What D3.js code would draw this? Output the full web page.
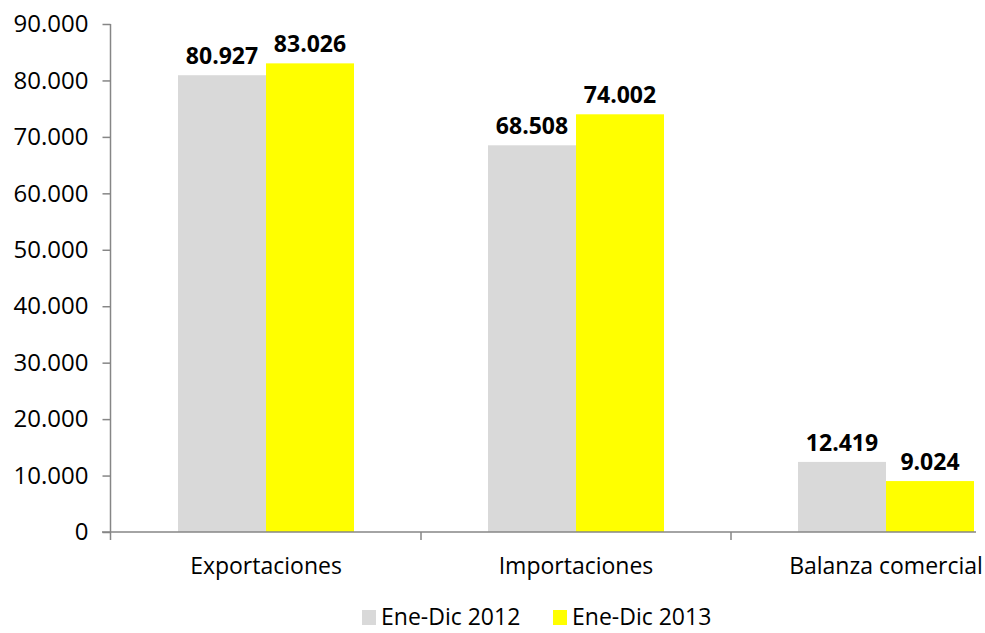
<!DOCTYPE html>
<html>
<head>
<meta charset="utf-8">
<script src="https://cdn.jsdelivr.net/npm/d3@7"></script>
<style>
  body { margin: 0; background: #fff; }
  text { font-family: "Open Sans", "Noto Sans", sans-serif; }
</style>
</head>
<body>
<div id="chart-area"></div>
<script>
var categories = ["Exportaciones", "Importaciones", "Balanza comercial"];
var series = ["Ene-Dic 2012", "Ene-Dic 2013"];
var values2012 = [80927, 68508, 12419];
var values2013 = [83026, 74002, 9024];
var yTicks = [0, 10000, 20000, 30000, 40000, 50000, 60000, 70000, 80000, 90000];
var colors = ["#d9d9d9", "#ffff00"];

var width = 985, height = 633;
var margin = { left: 111, right: -56, top: 24, bottom: 101 };

var svg = d3.select("#chart-area")
    .append("svg")
    .attr("width", width)
    .attr("height", height);

var fmt = function(v) {
    return d3.format(",")(v).replace(/,/g, ".");
};

var x = d3.scaleBand()
    .domain(categories)
    .range([margin.left, width - margin.right])
    .paddingInner(0)
    .paddingOuter(0);

// two 88px bars inside each 310px band
var x1 = d3.scaleBand()
    .domain(series)
    .range([0, x.bandwidth()])
    .paddingInner(0)
    .paddingOuter(0.7614);

var y = d3.scaleLinear()
    .domain([0, 90000])
    .range([height - margin.bottom, margin.top]);

var rows = categories.map(function(c, i) {
    return [
        { cat: c, s: series[0], v: values2012[i] },
        { cat: c, s: series[1], v: values2013[i] }
    ];
});

// bars
var groups = svg.selectAll("g.cat")
    .data(rows)
    .enter()
    .append("g")
    .attr("class", "cat")
    .attr("transform", function(d) { return "translate(" + x(d[0].cat) + ",0)"; });

groups.selectAll("rect")
    .data(function(d) { return d; })
    .enter()
    .append("rect")
        .attr("x", function(d) { return x1(d.s); })
        .attr("y", function(d) { return y(d.v); })
        .attr("width", x1.bandwidth())
        .attr("height", function(d) { return y(0) - y(d.v); })
        .attr("fill", function(d, i) { return colors[i]; });

groups.selectAll("text.val")
    .data(function(d) { return d; })
    .enter()
    .append("text")
        .attr("class", "val")
        .attr("x", function(d) { return x1(d.s) + x1.bandwidth() / 2; })
        .attr("y", function(d) { return y(d.v) - 11; })
        .attr("text-anchor", "middle")
        .attr("font-size", "23px")
        .attr("font-weight", "bold")
        .attr("fill", "#000")
        .text(function(d) { return fmt(d.v); });

// y axis
var yAxis = svg.append("g")
    .attr("transform", "translate(" + (margin.left - 0.5) + ",0)")
    .call(d3.axisLeft(y).tickValues(yTicks).tickSize(8).tickPadding(14).tickFormat(fmt));
yAxis.select(".domain").attr("stroke", "#868686").attr("stroke-width", 1.5)
    .attr("d", "M0," + margin.top + "V" + (y(0) + 8));
yAxis.selectAll(".tick line").attr("stroke", "#868686").attr("stroke-width", 1.5);
yAxis.selectAll(".tick text")
    .attr("font-size", "24px")
    .attr("fill", "#000")
    .attr("font-family", "'Open Sans', sans-serif");

// x axis
var xAxis = svg.append("g")
    .attr("transform", "translate(0," + (y(0)) + ")");
xAxis.append("line")
    .attr("x1", margin.left - 9)
    .attr("x2", 976)
    .attr("stroke", "#868686")
    .attr("stroke-width", 1.5);
xAxis.selectAll("line.tk")
    .data(categories.slice(1))
    .enter()
    .append("line")
        .attr("class", "tk")
        .attr("x1", function(d) { return x(d); })
        .attr("x2", function(d) { return x(d); })
        .attr("y1", 0)
        .attr("y2", 8)
        .attr("stroke", "#868686")
        .attr("stroke-width", 1.5);
xAxis.selectAll("text")
    .data(categories)
    .enter()
    .append("text")
        .attr("x", function(d) { return x(d) + x.bandwidth() / 2; })
        .attr("y", 42)
        .attr("text-anchor", "middle")
        .attr("font-size", "23px")
        .attr("fill", "#000")
        .text(function(d) { return d; });

// legend
var legendX = [362, 553];
var legend = svg.selectAll("g.leg")
    .data(series)
    .enter()
    .append("g")
    .attr("class", "leg")
    .attr("transform", function(d, i) { return "translate(" + legendX[i] + ",610)"; });
legend.append("rect")
    .attr("width", 14)
    .attr("height", 15)
    .attr("fill", function(d, i) { return colors[i]; });
legend.append("text")
    .attr("x", 19)
    .attr("y", 15)
    .attr("font-size", "23px")
    .attr("fill", "#000")
    .text(function(d) { return d; });
</script>
</body>
</html>
